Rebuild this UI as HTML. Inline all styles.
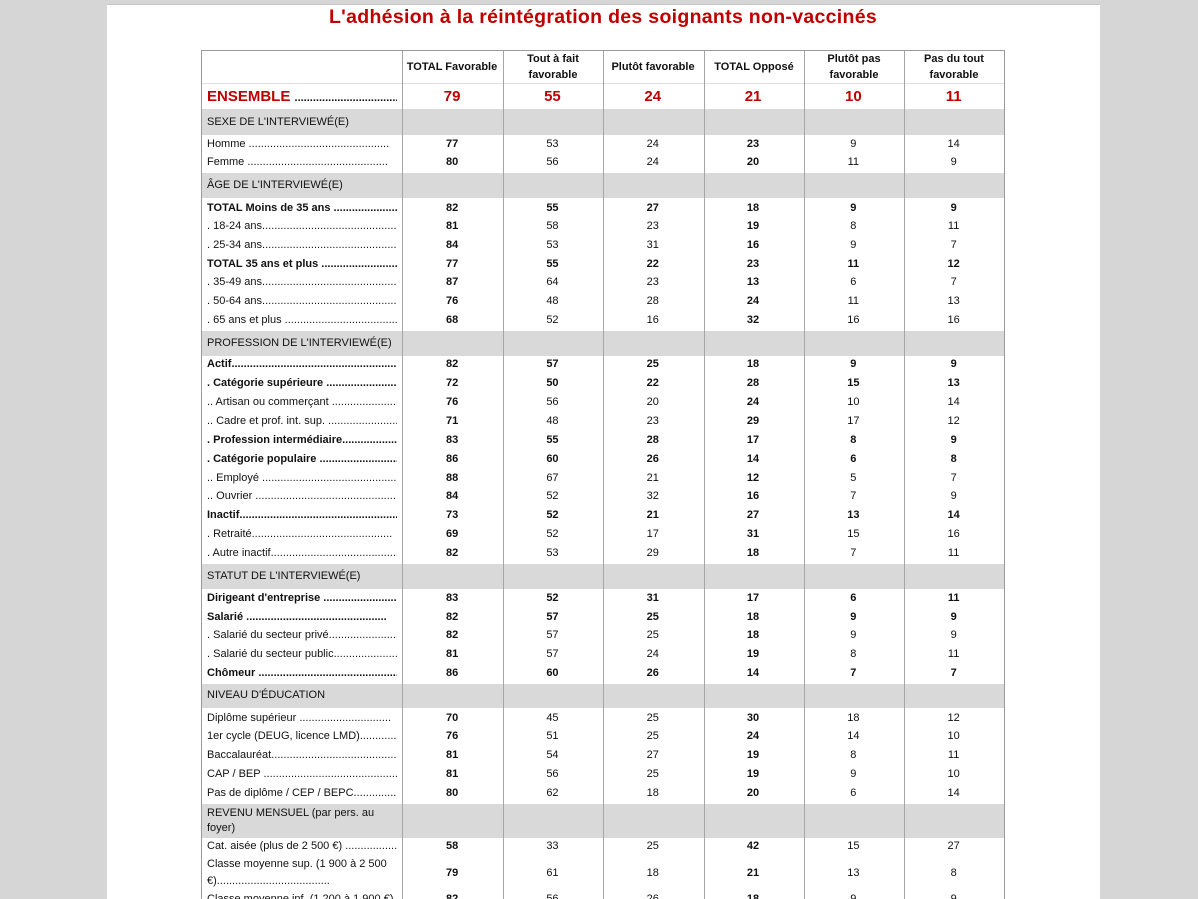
<!DOCTYPE html>
<html style="overflow:hidden;height:899px"><head><meta charset="utf-8"><style>
body{margin:0;width:1198px;height:899px;overflow:hidden;background:#d6d6d6;font-family:"Liberation Sans",sans-serif;position:relative}
.page{position:absolute;left:107px;top:4px;width:993px;height:895px;background:#fff;border-top:1px solid #c8c8c8}
.title{position:absolute;left:0;width:1206px;top:6px;text-align:center;color:#c00000;font-weight:bold;font-size:19.5px;letter-spacing:0.3px}
.tbl{position:absolute;left:201px;top:50px;width:802px;height:860px;border:1px solid #9a9a9a}
.v{position:absolute;top:50px;height:849px;width:1px;background:#a6a6a6;z-index:3}
.sec{position:absolute;left:202px;width:802px;background:#d9d9d9;font-size:11px;color:#111}
.sec span{position:absolute;left:5px;line-height:15px;width:190px}
.r{position:absolute;left:202px;width:802px;height:19px;line-height:19px;font-size:11px;color:#111;display:flex}
.r i{font-style:normal;width:100.3px;text-align:center}
.r i:nth-child(2),.r i:nth-child(5){font-weight:bold}
.r .l{width:190px;text-align:left;padding-left:5px;margin-right:5px;white-space:nowrap;overflow:hidden}
.r.b i{font-weight:bold}
.h{position:absolute;top:50px;height:33px;font-size:11px;font-weight:bold;text-align:center;display:flex;align-items:center;justify-content:center;line-height:16px;width:100px;color:#111}
.hl{position:absolute;left:202px;top:83px;width:802px;height:1px;background:#e0e0e0}
</style></head><body>
<div class="page"></div>
<div class="title">L'adhésion à la réintégration des soignants non-vaccinés</div>
<div class="tbl"></div>
<div class="hl"></div>
<div class="h" style="left:402px">TOTAL Favorable</div>
<div class="h" style="left:503px">Tout à fait<br>favorable</div>
<div class="h" style="left:603px">Plutôt favorable</div>
<div class="h" style="left:704px">TOTAL Opposé</div>
<div class="h" style="left:804px">Plutôt pas<br>favorable</div>
<div class="h" style="left:904px">Pas du tout<br>favorable</div>
<div class="r" style="top:85px;height:23px;line-height:23px;font-size:15px;color:#c00000;font-weight:bold"><i class="l" style="font-weight:bold">ENSEMBLE <span style="font-size:11px;color:#111">........................................</span></i><i>79</i><i>55</i><i>24</i><i>21</i><i>10</i><i>11</i></div>

<div class="sec" style="top:109px;height:26px"><span style="top:6px">SEXE DE L'INTERVIEWÉ(E)</span></div>
<div class="sec" style="top:173px;height:25px"><span style="top:5px">ÂGE DE L'INTERVIEWÉ(E)</span></div>
<div class="sec" style="top:331px;height:25px"><span style="top:5px">PROFESSION DE L'INTERVIEWÉ(E)</span></div>
<div class="sec" style="top:564px;height:25px"><span style="top:5px">STATUT DE L'INTERVIEWÉ(E)</span></div>
<div class="sec" style="top:684px;height:24px"><span style="top:4px">NIVEAU D'ÉDUCATION</span></div>
<div class="sec" style="top:804px;height:34px"><span style="top:2px">REVENU MENSUEL (par pers. au foyer)</span></div>

<div class="r" style="top:135px"><i class="l">Homme ..............................................</i><i>77</i><i>53</i><i>24</i><i>23</i><i>9</i><i>14</i></div>
<div class="r" style="top:153px"><i class="l">Femme ..............................................</i><i>80</i><i>56</i><i>24</i><i>20</i><i>11</i><i>9</i></div>
<div class="r b" style="top:199px"><i class="l">TOTAL Moins de 35 ans ..............................</i><i>82</i><i>55</i><i>27</i><i>18</i><i>9</i><i>9</i></div>
<div class="r" style="top:217px"><i class="l">. 18-24 ans..............................................</i><i>81</i><i>58</i><i>23</i><i>19</i><i>8</i><i>11</i></div>
<div class="r" style="top:236px"><i class="l">. 25-34 ans..............................................</i><i>84</i><i>53</i><i>31</i><i>16</i><i>9</i><i>7</i></div>
<div class="r b" style="top:255px"><i class="l">TOTAL 35 ans et plus ..............................</i><i>77</i><i>55</i><i>22</i><i>23</i><i>11</i><i>12</i></div>
<div class="r" style="top:273px"><i class="l">. 35-49 ans..............................................</i><i>87</i><i>64</i><i>23</i><i>13</i><i>6</i><i>7</i></div>
<div class="r" style="top:292px"><i class="l">. 50-64 ans..............................................</i><i>76</i><i>48</i><i>28</i><i>24</i><i>11</i><i>13</i></div>
<div class="r" style="top:311px"><i class="l">. 65 ans et plus ......................................</i><i>68</i><i>52</i><i>16</i><i>32</i><i>16</i><i>16</i></div>
<div class="r b" style="top:355px"><i class="l">Actif..............................................................</i><i>82</i><i>57</i><i>25</i><i>18</i><i>9</i><i>9</i></div>
<div class="r b" style="top:374px"><i class="l">. Catégorie supérieure ..............................</i><i>72</i><i>50</i><i>22</i><i>28</i><i>15</i><i>13</i></div>
<div class="r" style="top:393px"><i class="l">.. Artisan ou commerçant ..............................</i><i>76</i><i>56</i><i>20</i><i>24</i><i>10</i><i>14</i></div>
<div class="r" style="top:412px"><i class="l">.. Cadre et prof. int. sup. ..............................</i><i>71</i><i>48</i><i>23</i><i>29</i><i>17</i><i>12</i></div>
<div class="r b" style="top:431px"><i class="l">. Profession intermédiaire..............................</i><i>83</i><i>55</i><i>28</i><i>17</i><i>8</i><i>9</i></div>
<div class="r b" style="top:450px"><i class="l">. Catégorie populaire ..............................</i><i>86</i><i>60</i><i>26</i><i>14</i><i>6</i><i>8</i></div>
<div class="r" style="top:469px"><i class="l">.. Employé ..............................................</i><i>88</i><i>67</i><i>21</i><i>12</i><i>5</i><i>7</i></div>
<div class="r" style="top:487px"><i class="l">.. Ouvrier ..............................................</i><i>84</i><i>52</i><i>32</i><i>16</i><i>7</i><i>9</i></div>
<div class="r b" style="top:506px"><i class="l">Inactif..............................................................</i><i>73</i><i>52</i><i>21</i><i>27</i><i>13</i><i>14</i></div>
<div class="r" style="top:525px"><i class="l">. Retraité..............................................</i><i>69</i><i>52</i><i>17</i><i>31</i><i>15</i><i>16</i></div>
<div class="r" style="top:544px"><i class="l">. Autre inactif..............................................</i><i>82</i><i>53</i><i>29</i><i>18</i><i>7</i><i>11</i></div>
<div class="r b" style="top:589px"><i class="l">Dirigeant d'entreprise ..............................</i><i>83</i><i>52</i><i>31</i><i>17</i><i>6</i><i>11</i></div>
<div class="r b" style="top:608px"><i class="l">Salarié ..............................................</i><i>82</i><i>57</i><i>25</i><i>18</i><i>9</i><i>9</i></div>
<div class="r" style="top:626px"><i class="l">. Salarié du secteur privé..............................</i><i>82</i><i>57</i><i>25</i><i>18</i><i>9</i><i>9</i></div>
<div class="r" style="top:645px"><i class="l">. Salarié du secteur public..............................</i><i>81</i><i>57</i><i>24</i><i>19</i><i>8</i><i>11</i></div>
<div class="r b" style="top:664px"><i class="l">Chômeur ..............................................</i><i>86</i><i>60</i><i>26</i><i>14</i><i>7</i><i>7</i></div>
<div class="r" style="top:709px"><i class="l">Diplôme supérieur ..............................</i><i>70</i><i>45</i><i>25</i><i>30</i><i>18</i><i>12</i></div>
<div class="r" style="top:727px"><i class="l">1er cycle (DEUG, licence LMD)..............................</i><i>76</i><i>51</i><i>25</i><i>24</i><i>14</i><i>10</i></div>
<div class="r" style="top:746px"><i class="l">Baccalauréat..............................................</i><i>81</i><i>54</i><i>27</i><i>19</i><i>8</i><i>11</i></div>
<div class="r" style="top:765px"><i class="l">CAP / BEP ..............................................</i><i>81</i><i>56</i><i>25</i><i>19</i><i>9</i><i>10</i></div>
<div class="r" style="top:784px"><i class="l">Pas de diplôme / CEP / BEPC..............................</i><i>80</i><i>62</i><i>18</i><i>20</i><i>6</i><i>14</i></div>
<div class="r" style="top:837px"><i class="l">Cat. aisée (plus de 2 500 €) ..............................</i><i>58</i><i>33</i><i>25</i><i>42</i><i>15</i><i>27</i></div>
<div class="r" style="top:856px;height:34px;line-height:34px"><i class="l" style="white-space:normal;line-height:17px;overflow:hidden;height:34px">Classe moyenne sup. (1 900 à 2 500 €).....................................</i><i>79</i><i>61</i><i>18</i><i>21</i><i>13</i><i>8</i></div>
<div class="r" style="top:890px"><i class="l">Classe moyenne inf. (1 200 à 1 900 €)</i><i>82</i><i>56</i><i>26</i><i>18</i><i>9</i><i>9</i></div>

<div class="v" style="left:402px"></div>
<div class="v" style="left:503px"></div>
<div class="v" style="left:603px"></div>
<div class="v" style="left:704px"></div>
<div class="v" style="left:804px"></div>
<div class="v" style="left:904px"></div>
</body></html>
